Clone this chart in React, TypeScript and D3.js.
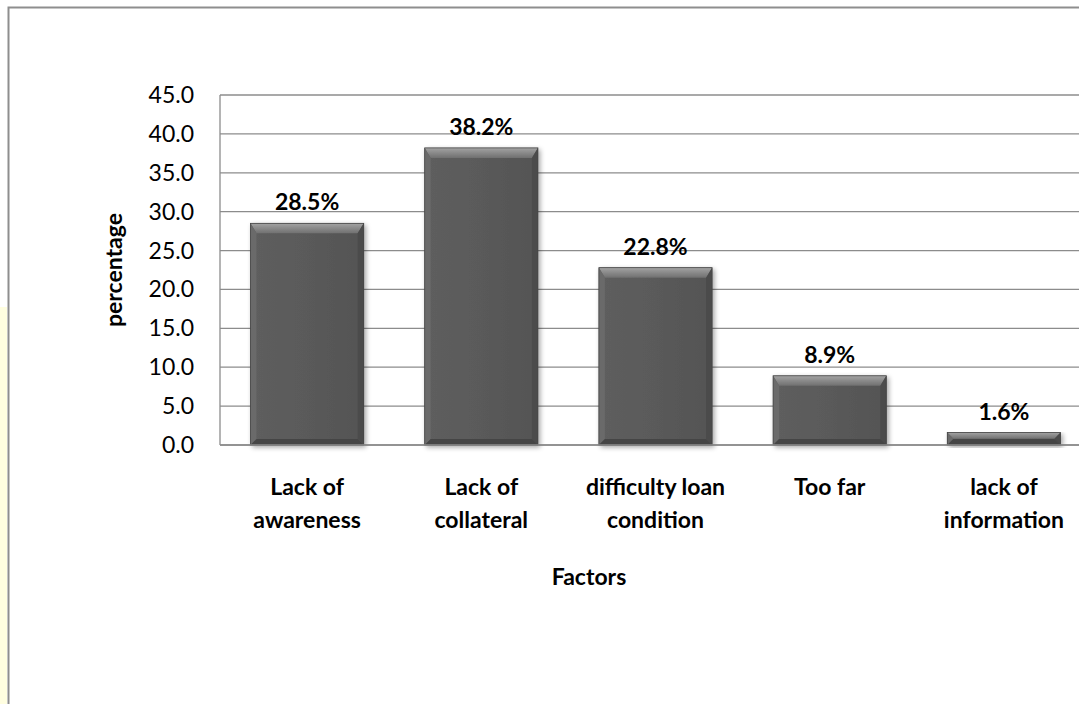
import * as d3 from "d3";

const categories = [
  "Lack of awareness",
  "Lack of collateral",
  "difficulty loan condition",
  "Too far",
  "lack of information",
];
const categoryLines = [
  ["Lack of", "awareness"],
  ["Lack of", "collateral"],
  ["difficulty loan", "condition"],
  ["Too far"],
  ["lack of", "information"],
];
const values = [28.5, 38.2, 22.8, 8.9, 1.6];
const valueLabels = ["28.5%", "38.2%", "22.8%", "8.9%", "1.6%"];

const W = 1079;
const H = 704;
const FONT = "Lato, 'Open Sans', sans-serif";

export default function App() {
  const x = d3
    .scaleBand<string>()
    .domain(categories)
    .range([220, 1091])
    .paddingInner(0.35)
    .paddingOuter(0.175);
  const y = d3.scaleLinear().domain([0, 45]).range([445, 95]);
  const ticks = y.ticks(9);
  const bw = x.bandwidth();
  const [x0, x1] = x.range();

  return (
    <svg
      width={W}
      height={H}
      style={{ position: "absolute", left: 0, top: 0, display: "block", background: "#fff" }}
    >
      <defs>
        <linearGradient id="topBevel" x1="0" y1="0" x2="0" y2="1">
          <stop offset="0" stopColor="#a3a3a3" />
          <stop offset="1" stopColor="#707070" />
        </linearGradient>
        <linearGradient id="face" x1="0" y1="0" x2="1" y2="0">
          <stop offset="0" stopColor="#5e5e5e" />
          <stop offset="0.5" stopColor="#5a5a5a" />
          <stop offset="1" stopColor="#545454" />
        </linearGradient>
        <filter id="shadow" x="-20%" y="-20%" width="140%" height="140%">
          <feGaussianBlur in="SourceAlpha" stdDeviation="2.5" />
          <feOffset dx="2" dy="2" result="b" />
          <feComponentTransfer>
            <feFuncA type="linear" slope="0.35" />
          </feComponentTransfer>
          <feMerge>
            <feMergeNode />
            <feMergeNode in="SourceGraphic" />
          </feMerge>
        </filter>
      </defs>

      {/* left strip */}
      <rect x={0} y={307} width={7} height={H - 307} fill="#fffee0" />
      {/* chart frame */}
      <path d={`M8.5,${H} V7.5 H${W}`} fill="none" stroke="#8e8e8e" strokeWidth={2} />

      {/* gridlines */}
      {ticks.map((t) => (
        <line key={t} x1={x0} x2={x1} y1={y(t)} y2={y(t)} stroke="#8c8c8c" strokeWidth={1.3} />
      ))}
      <line x1={x0} x2={x0} y1={y(45)} y2={y(0)} stroke="#8c8c8c" strokeWidth={1.3} />

      {/* y tick labels */}
      {ticks.map((t) => (
        <text
          key={t}
          x={194}
          y={y(t)}
          dy="0.35em"
          textAnchor="end"
          fontFamily={FONT}
          fontSize={23}
          fill="#000"
        >
          {t.toFixed(1)}
        </text>
      ))}

      {/* bars */}
      {categories.map((c, i) => {
        const left = x(c)!;
        const right = left + bw;
        const top = y(values[i]);
        const bottom = y(0);
        const h = bottom - top;
        const b = Math.min(10, h / 2);
        const s = Math.min(6, h / 2);
        return (
          <g key={c} filter="url(#shadow)">
            <rect x={left} y={top} width={bw} height={h} fill="url(#face)" />
            <polygon
              points={`${left},${top} ${right},${top} ${right - s},${top + b} ${left + s},${top + b}`}
              fill="url(#topBevel)"
            />
            <polygon
              points={`${left},${top} ${left + s},${top + b} ${left + s},${bottom - s} ${left},${bottom}`}
              fill="#6a6a6a"
            />
            <polygon
              points={`${right},${top} ${right - s},${top + b} ${right - s},${bottom - s} ${right},${bottom}`}
              fill="#4c4c4c"
            />
            <polygon
              points={`${left},${bottom} ${left + s},${bottom - s} ${right - s},${bottom - s} ${right},${bottom}`}
              fill="#454545"
            />
            <rect x={left} y={top} width={bw} height={h} fill="none" stroke="#444" strokeWidth={0.8} />
          </g>
        );
      })}

      {/* baseline axis */}
      <line x1={x0} x2={x1} y1={y(0)} y2={y(0)} stroke="#8c8c8c" strokeWidth={1.3} />

      {/* value labels */}
      {categories.map((c, i) => (
        <text
          key={c}
          x={x(c)! + bw / 2}
          y={y(values[i]) - 13}
          textAnchor="middle"
          fontFamily={FONT}
          fontWeight="bold"
          fontSize={23}
          fill="#000"
        >
          {valueLabels[i]}
        </text>
      ))}

      {/* category labels */}
      {categories.map((c, i) => (
        <text
          key={c}
          x={x(c)! + bw / 2}
          y={495}
          textAnchor="middle"
          fontFamily={FONT}
          fontWeight="bold"
          fontSize={23}
          fill="#000"
        >
          {categoryLines[i].map((ln, j) => (
            <tspan key={j} x={x(c)! + bw / 2} y={495 + j * 33}>
              {ln}
            </tspan>
          ))}
        </text>
      ))}

      {/* axis titles */}
      <text x={589} y={585} textAnchor="middle" fontFamily={FONT} fontWeight="bold" fontSize={23}>
        Factors
      </text>
      <text
        transform={`translate(122, ${(y(0) + y(45)) / 2}) rotate(-90)`}
        textAnchor="middle"
        fontFamily={FONT}
        fontWeight="bold"
        fontSize={23}
      >
        percentage
      </text>
    </svg>
  );
}
